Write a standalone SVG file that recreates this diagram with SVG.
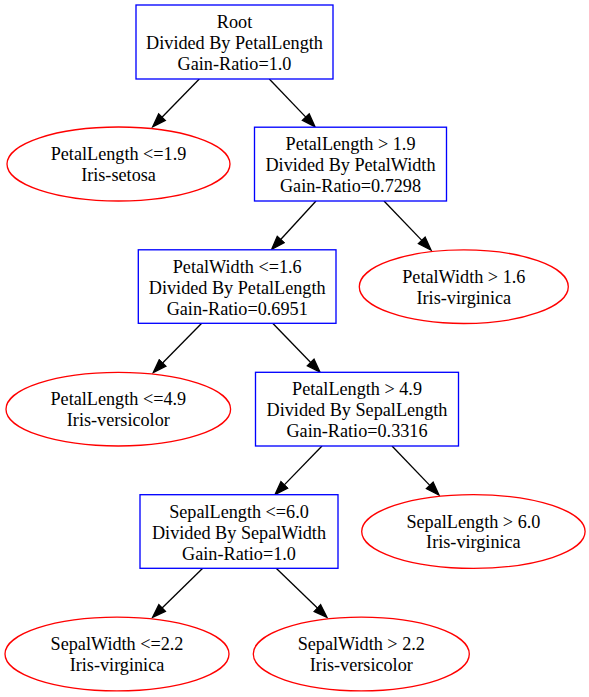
<svg xmlns="http://www.w3.org/2000/svg" width="589" height="697" viewBox="0 0 589 697">
<style>
.box{fill:#ffffff;stroke:#0000ff;stroke-width:1.33}
.ell{fill:#ffffff;stroke:#ff0000;stroke-width:1.33}
.edge{fill:none;stroke:#000000;stroke-width:1.33}
.t{font-family:'Times New Roman','Liberation Serif',Tinos,serif;font-size:18.2px;text-anchor:middle;fill:#000000}
</style>
<defs>
<marker id="arr" markerUnits="userSpaceOnUse" viewBox="-1 -6 16 12" markerWidth="16" markerHeight="12" refX="0" refY="0" orient="auto">
<path d="M0,-4.67 L13.3,0 L0,4.67 Z" fill="#000000" stroke="#000000" stroke-width="1.33"/>
</marker>
</defs>
<rect width="589" height="697" fill="#ffffff"/>
<g id="edges">
<line class="edge" x1="199.3" y1="79" x2="162.0" y2="117.2" marker-end="url(#arr)"/>
<line class="edge" x1="269.3" y1="79" x2="305.8" y2="117.1" marker-end="url(#arr)"/>
<line class="edge" x1="316" y1="201" x2="280.7" y2="239.5" marker-end="url(#arr)"/>
<line class="edge" x1="384" y1="201" x2="421.8" y2="240.4" marker-end="url(#arr)"/>
<line class="edge" x1="201.7" y1="323.3" x2="162.6" y2="363.0" marker-end="url(#arr)"/>
<line class="edge" x1="272.7" y1="323.3" x2="310.7" y2="362.5" marker-end="url(#arr)"/>
<line class="edge" x1="322" y1="446" x2="284.3" y2="484.9" marker-end="url(#arr)"/>
<line class="edge" x1="392" y1="446" x2="429.8" y2="485.4" marker-end="url(#arr)"/>
<line class="edge" x1="202.7" y1="568.3" x2="162.1" y2="608.0" marker-end="url(#arr)"/>
<line class="edge" x1="276.2" y1="568.3" x2="317.4" y2="608.1" marker-end="url(#arr)"/>
</g>
<g id="root">
<rect class="box" x="136" y="5" width="197" height="74"/>
<text class="t" font-family="Times New Roman" x="234.5" y="28">Root</text>
<text class="t" font-family="Times New Roman" x="234.5" y="49">Divided By PetalLength</text>
<text class="t" font-family="Times New Roman" x="234.5" y="70">Gain-Ratio=1.0</text>
</g>
<g id="leaf_setosa">
<ellipse class="ell" cx="118.5" cy="164" rx="111.5" ry="37"/>
<text class="t" font-family="Times New Roman" x="118.5" y="160">PetalLength &lt;=1.9</text>
<text class="t" font-family="Times New Roman" x="118.5" y="180.8">Iris-setosa</text>
</g>
<g id="node_pl_gt_19">
<rect class="box" x="254.5" y="127.2" width="192" height="73.8"/>
<text class="t" font-family="Times New Roman" x="350.5" y="150">PetalLength &gt; 1.9</text>
<text class="t" font-family="Times New Roman" x="350.5" y="171">Divided By PetalWidth</text>
<text class="t" font-family="Times New Roman" x="350.5" y="192">Gain-Ratio=0.7298</text>
</g>
<g id="node_pw_le_16">
<rect class="box" x="138.3" y="249.8" width="197.7" height="73.5"/>
<text class="t" font-family="Times New Roman" x="237.2" y="272.7">PetalWidth &lt;=1.6</text>
<text class="t" font-family="Times New Roman" x="237.2" y="293.7">Divided By PetalLength</text>
<text class="t" font-family="Times New Roman" x="237.2" y="314.7">Gain-Ratio=0.6951</text>
</g>
<g id="leaf_pw_gt_16">
<ellipse class="ell" cx="463.8" cy="286.7" rx="104.5" ry="36.8"/>
<text class="t" font-family="Times New Roman" x="463.8" y="282.7">PetalWidth &gt; 1.6</text>
<text class="t" font-family="Times New Roman" x="463.8" y="303.5">Iris-virginica</text>
</g>
<g id="leaf_pl_le_49">
<ellipse class="ell" cx="118.3" cy="409.2" rx="112.3" ry="36.8"/>
<text class="t" font-family="Times New Roman" x="118.3" y="405.2">PetalLength &lt;=4.9</text>
<text class="t" font-family="Times New Roman" x="118.3" y="426">Iris-versicolor</text>
</g>
<g id="node_pl_gt_49">
<rect class="box" x="255.5" y="372.3" width="203" height="73.7"/>
<text class="t" font-family="Times New Roman" x="357" y="395.2">PetalLength &gt; 4.9</text>
<text class="t" font-family="Times New Roman" x="357" y="416.2">Divided By SepalLength</text>
<text class="t" font-family="Times New Roman" x="357" y="437.2">Gain-Ratio=0.3316</text>
</g>
<g id="node_sl_le_60">
<rect class="box" x="140" y="494.7" width="198" height="73.6"/>
<text class="t" font-family="Times New Roman" x="239" y="517.5">SepalLength &lt;=6.0</text>
<text class="t" font-family="Times New Roman" x="239" y="538.5">Divided By SepalWidth</text>
<text class="t" font-family="Times New Roman" x="239" y="559.5">Gain-Ratio=1.0</text>
</g>
<g id="leaf_sl_gt_60">
<ellipse class="ell" cx="473.4" cy="531.5" rx="111.7" ry="36.8"/>
<text class="t" font-family="Times New Roman" x="473.4" y="527.5">SepalLength &gt; 6.0</text>
<text class="t" font-family="Times New Roman" x="473.4" y="548.3">Iris-virginica</text>
</g>
<g id="leaf_sw_le_22">
<ellipse class="ell" cx="117" cy="654" rx="112" ry="36.8"/>
<text class="t" font-family="Times New Roman" x="117" y="650">SepalWidth &lt;=2.2</text>
<text class="t" font-family="Times New Roman" x="117" y="670.8">Iris-virginica</text>
</g>
<g id="leaf_sw_gt_22">
<ellipse class="ell" cx="361.3" cy="654" rx="108" ry="36.8"/>
<text class="t" font-family="Times New Roman" x="361.3" y="650">SepalWidth &gt; 2.2</text>
<text class="t" font-family="Times New Roman" x="361.3" y="670.8">Iris-versicolor</text>
</g>
</svg>
